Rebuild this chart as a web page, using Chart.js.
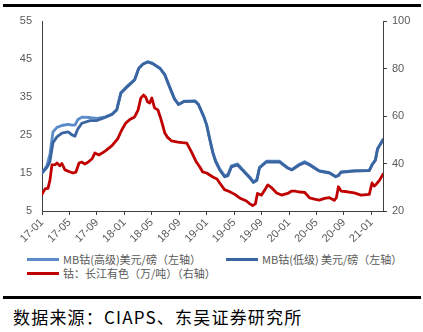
<!DOCTYPE html>
<html>
<head>
<meta charset="utf-8">
<script src="https://cdn.jsdelivr.net/npm/chart.js@4/dist/chart.umd.min.js"></script>
<style>
  body { margin: 0; background: #fff; width: 423px; height: 332px; position: relative; overflow: hidden; font-family: "Noto Sans CJK SC", "Liberation Sans", sans-serif; }
  #box { position: absolute; left: 0; top: 0; width: 423px; height: 250px; }
  .rule { position: absolute; left: 3px; width: 418px; background: #000; }
  .lg { position: absolute; font-size: 11px; color: #595959; line-height: 14px; white-space: nowrap; }
  .lg i { position: absolute; left: 0; top: 6px; width: 32px; height: 3px; }
  .lg span { position: absolute; left: 36px; top: 0; }
  #src { position: absolute; left: 13px; top: 304px; font-size: 17px; color: #000; letter-spacing: 1.2px; white-space: nowrap; }
</style>
</head>
<body>
<div class="rule" style="top:4px;height:3px"></div>
<div id="box"><canvas id="chart"></canvas></div>
<div id="legend"></div>
<div class="rule" style="top:296px;height:3px"></div>
<div id="src">数据来源：CIAPS、东吴证券研究所</div>
<script>
// months counted from 2017-01
const tickMonths = [0, 4, 8, 12, 16, 20, 24, 28, 32, 36, 40, 44, 48];
const tickLabels = ['17-01', '17-05', '17-09', '18-01', '18-05', '18-09', '19-01', '19-05', '19-09', '20-01', '20-05', '20-09', '21-01'];

const blueMonths = [0, 0.73, 1.16, 1.6, 2.18, 2.9, 3.8, 4.4, 4.8, 5.2, 5.8, 7.0, 8.0, 9.2, 10.2, 10.9, 11.5, 12.5, 13.5, 14.1,
  14.7, 15.4, 16.1, 17.2, 17.9, 18.6, 19.3, 19.9, 20.7, 22.3, 22.8, 23.6, 24.0, 24.4, 24.9, 25.3, 25.9, 26.6, 27.1, 27.6,
  28.5, 29.2, 30.3, 30.8, 31.3, 31.7, 32.7, 34.6, 35.8, 36.4, 37.5, 38.3, 39.0, 40.4, 41.9, 42.8, 43.2, 43.6, 45.5, 47.7,
  48.1, 48.6, 48.9, 49.3, 49.7];
const highGrade = [15.0, 17.0, 20.0, 25.8, 27.0, 27.5, 27.8, 27.6, 27.6, 29.0, 29.7, 29.6, 29.4, 29.8, 30.5, 31.7, 36.2, 38.0, 39.6, 42.6,
  43.7, 44.3, 43.9, 42.6, 40.9, 37.7, 34.6, 33.1, 33.9, 34.0, 33.1, 29.8, 27.7, 24.4, 20.5, 18.3, 16.1, 14.3, 14.6, 16.9,
  17.4, 16.0, 13.9, 12.7, 13.2, 16.5, 18.1, 18.1, 16.4, 15.9, 17.3, 18.0, 17.3, 15.6, 15.1, 14.1, 14.4, 15.3, 15.6, 15.7,
  17.2, 18.5, 21.4, 22.6, 23.8];
const lowGrade = [15.0, 16.5, 18.0, 23.0, 24.5, 25.5, 25.8, 25.0, 24.7, 26.5, 28.1, 28.8, 28.8, 29.6, 30.4, 31.6, 36.0, 37.8, 39.5, 42.5,
  43.6, 44.2, 43.8, 42.5, 40.8, 37.6, 34.5, 33.0, 33.8, 33.9, 33.0, 29.7, 27.6, 24.2, 20.3, 18.0, 15.8, 14.0, 14.3, 16.6,
  17.1, 15.8, 13.7, 12.5, 13.0, 16.3, 17.9, 17.9, 16.3, 15.8, 17.1, 17.7, 17.1, 15.5, 15.0, 14.0, 14.3, 15.2, 15.5, 15.6,
  17.1, 18.4, 21.3, 22.5, 23.7];

const redMonths = [0, 0.44, 0.87, 1.16, 1.45, 1.9, 2.18, 2.6, 2.9, 3.35, 4.1, 4.5, 4.95, 5.4, 5.8, 6.25, 6.7, 7.3, 7.7, 8.3,
  9.2, 10.2, 11.05, 11.6, 12.2, 12.8, 13.5, 14.0, 14.4, 14.8, 15.1, 15.4, 15.7, 16.0, 16.4, 16.9, 17.3, 17.6, 17.9, 18.3,
  18.9, 19.8, 21.1, 21.8, 22.5, 23.0, 23.4, 24.0, 24.9, 25.5, 25.9, 26.6, 27.3, 28.1, 28.8, 29.8, 30.3, 30.7, 31.1, 31.4,
  32.0, 32.6, 32.9, 33.5, 34.2, 34.9, 35.8, 36.4, 36.9, 37.5, 38.3, 39.0, 39.7, 40.4, 41.2, 41.9, 42.6, 42.9, 43.2, 43.6,
  44.5, 45.5, 46.5, 47.7, 48.1, 48.4, 48.7, 49.2, 49.7];
const yangtze = [27.0, 29.3, 29.5, 33.0, 39.4, 39.5, 40.2, 39.0, 40.0, 37.3, 36.4, 36.0, 36.4, 40.2, 40.6, 39.8, 40.5, 42.0, 44.4, 43.6,
  45.2, 47.5, 50.5, 54.0, 57.0, 58.5, 59.6, 62.5, 67.5, 68.8, 68.0, 65.9, 65.5, 67.6, 63.4, 62.5, 59.0, 56.0, 52.8, 51.0,
  49.5, 49.0, 48.6, 44.8, 40.6, 38.5, 36.5, 36.0, 34.3, 33.5, 31.8, 29.0, 28.2, 27.0, 25.5, 24.2, 23.0, 22.3, 23.0, 27.4,
  26.7, 29.5, 31.0, 29.7, 27.6, 26.7, 27.4, 28.4, 28.4, 28.0, 27.8, 25.5, 25.0, 24.6, 25.3, 25.6, 24.5, 25.5, 30.2, 28.4,
  28.1, 27.6, 26.7, 27.0, 31.8, 30.5, 31.2, 33.0, 35.5];

const seriesNames = ['MB钴(高级)美元/磅（左轴）', 'MB钴(低级) 美元/磅（左轴）', '钴：长江有色（万/吨）（右轴）'];
const seriesColors = ['#5B8CC9', '#3A65A0', '#C00000'];

function pts(xs, ys) {
  return xs.map(function (x, i) { return {x: x, y: ys[i]}; });
}

const tickFont = {family: '"Liberation Sans", "Noto Sans CJK SC", sans-serif', size: 11};
const axisGray = '#595959';

const ctx = document.getElementById('chart').getContext('2d');
const myChart = new Chart(ctx, {
  type: 'line',
  data: {
    datasets: [{
      label: seriesNames[0],
      data: pts(blueMonths, highGrade),
      borderColor: seriesColors[0],
      yAxisID: 'yL',
      order: 3
    }, {
      label: seriesNames[1],
      data: pts(blueMonths, lowGrade),
      borderColor: seriesColors[1],
      yAxisID: 'yL',
      order: 2
    }, {
      label: seriesNames[2],
      data: pts(redMonths, yangtze),
      borderColor: seriesColors[2],
      yAxisID: 'yR',
      order: 1
    }]
  },
  options: {
    responsive: true,
    maintainAspectRatio: false,
    animation: false,
    layout: {padding: {top: 21, left: 0, right: 0, bottom: 0}},
    elements: {
      point: {radius: 0},
      line: {borderWidth: 2.8, tension: 0, borderJoinStyle: 'round', borderCapStyle: 'round'}
    },
    plugins: {legend: {display: false}, tooltip: {enabled: false}},
    scales: {
      x: {
        type: 'linear',
        min: 0,
        max: 49.7,
        afterBuildTicks: function (scale) {
          scale.ticks = tickMonths.map(function (v) { return {value: v}; });
        },
        afterFit: function (scale) { scale.height = 39; },
        border: {display: true, color: '#404040', width: 1},
        grid: {drawOnChartArea: false, drawTicks: true, tickLength: 4, color: '#404040'},
        ticks: {
          autoSkip: false,
          maxRotation: 45,
          minRotation: 45,
          padding: 1,
          color: axisGray,
          font: tickFont,
          callback: function (v) {
            const i = tickMonths.indexOf(v);
            return i >= 0 ? tickLabels[i] : '';
          }
        }
      },
      yL: {
        position: 'left',
        min: 5,
        max: 55,
        afterFit: function (scale) { scale.width = 42; },
        border: {display: true, color: '#404040', width: 1},
        grid: {drawOnChartArea: false, drawTicks: false},
        ticks: {stepSize: 10, padding: 10, color: axisGray, font: tickFont}
      },
      yR: {
        position: 'right',
        min: 20,
        max: 100,
        afterFit: function (scale) { scale.width = 40; },
        border: {display: true, color: '#404040', width: 1},
        grid: {drawOnChartArea: false, drawTicks: true, tickLength: 4, color: '#404040'},
        ticks: {stepSize: 20, padding: 5, color: axisGray, font: tickFont}
      }
    }
  }
});

// legend built from the dataset labels
const legendSpots = [[27, 252], [226, 252], [27, 266]];
const legendBox = document.getElementById('legend');
myChart.data.datasets.forEach(function (ds, i) {
  const el = document.createElement('div');
  el.className = 'lg';
  el.style.left = legendSpots[i][0] + 'px';
  el.style.top = legendSpots[i][1] + 'px';
  el.innerHTML = '<i style="background:' + ds.borderColor + '"></i><span>' + ds.label + '</span>';
  legendBox.appendChild(el);
});
</script>
</body>
</html>
